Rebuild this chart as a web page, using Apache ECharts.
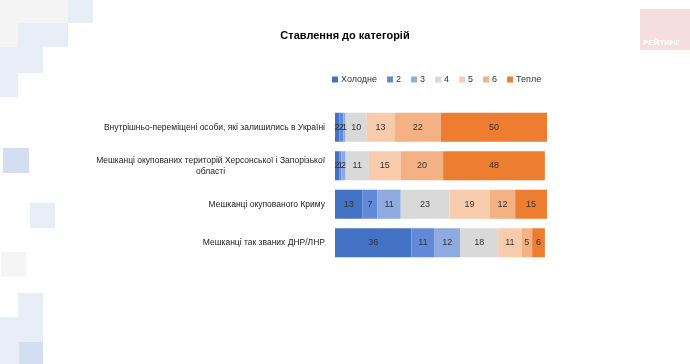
<!DOCTYPE html>
<html><head><meta charset="utf-8">
<script src="https://cdn.jsdelivr.net/npm/echarts@6/dist/echarts.min.js"></script>
<style>html,body{margin:0;padding:0;background:#fff}#c{width:690px;height:364px}</style>
</head><body><div id="c"></div>
<script>
const categories = [
  'Внутрішньо-переміщені особи, які залишились в Україні',
  'Мешканці окупованих територій Херсонської і Запорізької\nобласті',
  'Мешканці окупованого Криму',
  'Мешканці так званих ДНР/ЛНР'
];
const seriesNames = ['Холодне','2','3','4','5','6','Тепле'];
const cold  = [2, 2, 13, 36];
const v2    = [2, 1, 7, 11];
const v3    = [1, 2, 11, 12];
const v4    = [10, 11, 23, 18];
const v5    = [13, 15, 19, 11];
const v6    = [22, 20, 12, 5];
const warm  = [50, 48, 15, 6];
const seriesValues = [cold, v2, v3, v4, v5, v6, warm];
const colors = ['#4472c4','#6189d8','#8eaadf','#d9d9d9','#f8cbad','#f4b183','#ed7d31'];

const chart = echarts.init(document.getElementById('c'));
const font = '"Liberation Sans", Arial, sans-serif';

const deco = [
  {x:0,y:0,w:68,h:23,c:'#f4f4f4'},
  {x:0,y:23,w:18,h:24,c:'#f4f4f4'},
  {x:68,y:0,w:25,h:23,c:'#e8eef8'},
  {x:18,y:23,w:50,h:24,c:'#e8eef8'},
  {x:0,y:47,w:43,h:26,c:'#e8eef8'},
  {x:0,y:73,w:18,h:24,c:'#e8eef8'},
  {x:3,y:148,w:26,h:25,c:'#d3def1'},
  {x:30,y:203,w:25,h:25,c:'#e8eef8'},
  {x:1,y:252,w:25,h:25,c:'#f5f5f5'},
  {x:18,y:293,w:25,h:71,c:'#e8eef8'},
  {x:0,y:317,w:18,h:47,c:'#e8eef8'},
  {x:19,y:342,w:24,h:22,c:'#d3def1'},
  {x:640,y:9,w:50,h:41,c:'#f7dede'}
];
const graphic = deco.map(d => ({type:'rect', z:-10, silent:true, shape:{x:d.x,y:d.y,width:d.w,height:d.h}, style:{fill:d.c}}));
graphic.push({type:'text', z:-9, silent:true, left:643, top:39, style:{text:'РЕЙТИНГ', fill:'#ffffff', font:'bold 8px ' + font}});

chart.setOption({
  animation:false,
  backgroundColor:'#ffffff',
  graphic: graphic,
  title:{text:'Ставлення до категорій', left:340, top:25, textAlign:'center',
    textStyle:{fontFamily:font, fontSize:11, fontWeight:'bold', color:'#000'}},
  legend:{data:seriesNames, left:327, top:70, itemWidth:6, itemHeight:6, itemGap:10,
    icon:'rect', textStyle:{fontFamily:font, fontSize:9, color:'#333', padding:[0,0,0,-2]}},
  grid:{left:335, right:143, top:108, bottom:102, containLabel:false},
  xAxis:{type:'value', min:0, max:100, show:false},
  yAxis:{type:'category', data:categories, inverse:true,
    axisLine:{show:false}, axisTick:{show:false},
    axisLabel:{margin:10, fontFamily:font, fontSize:8.5, color:'#222', lineHeight:11,
      formatter: function(v){
        return v.split('\n').map(s => '{a|' + s + '}').join('\n');
      },
      rich:{a:{align:'center', fontFamily:font, fontSize:8.5, color:'#222', lineHeight:11}}
    }},
  series: seriesNames.map((n,i) => ({
    name:n, type:'bar', stack:'t', data:seriesValues[i], barWidth:29,
    itemStyle:{color:colors[i]},
    label:{show:true, position:'inside', fontFamily:font, fontSize:9, color:'#333'}
  }))
});
</script></body></html>
